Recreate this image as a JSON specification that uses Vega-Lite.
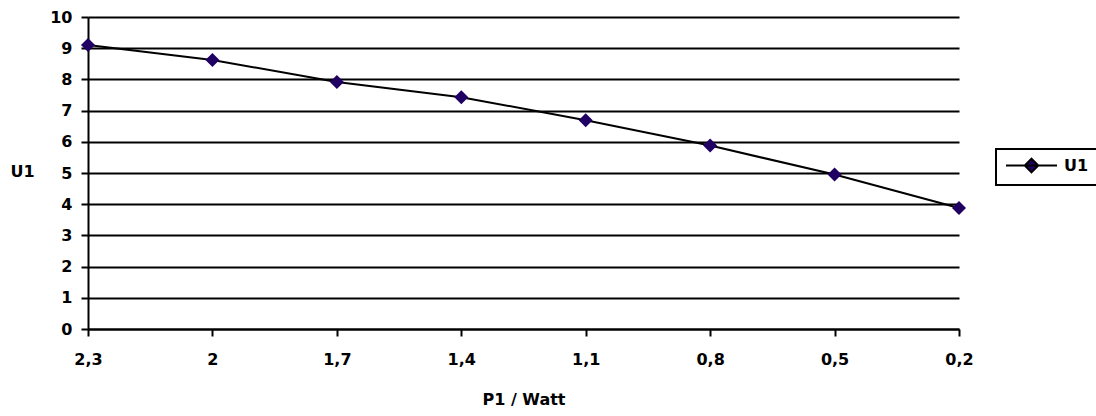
{
  "$schema": "https://vega.github.io/schema/vega-lite/v6.json",
  "width": 871,
  "height": 312,
  "autosize": {"type": "none"},
  "padding": {"left": 88, "top": 17, "right": 137, "bottom": 87},
  "background": "white",
  "data": {
    "values": [
      {"p": "2,3", "u": 9.1, "s": "U1"},
      {"p": "2", "u": 8.62, "s": "U1"},
      {"p": "1,7", "u": 7.92, "s": "U1"},
      {"p": "1,4", "u": 7.43, "s": "U1"},
      {"p": "1,1", "u": 6.69, "s": "U1"},
      {"p": "0,8", "u": 5.88, "s": "U1"},
      {"p": "0,5", "u": 4.95, "s": "U1"},
      {"p": "0,2", "u": 3.88, "s": "U1"}
    ]
  },
  "config": {
    "view": {"stroke": null},
    "font": "DejaVu Sans",
    "legend": {"strokeWidth": 2}
  },
  "encoding": {
    "x": {
      "field": "p",
      "type": "ordinal",
      "sort": null,
      "scale": {"type": "point", "padding": 0},
      "axis": {
        "labelAngle": 0,
        "labelFont": "DejaVu Sans",
        "labelFontSize": 16,
        "labelFontWeight": "bold",
        "labelColor": "black",
        "labelPadding": 15,
        "domainColor": "black",
        "domainWidth": 2,
        "tickColor": "black",
        "tickWidth": 2,
        "tickSize": 7,
        "grid": false,
        "title": "P1 / Watt",
        "titleFont": "DejaVu Sans",
        "titleFontSize": 16,
        "titleFontWeight": "bold",
        "titleColor": "black",
        "titleX": 435.5,
        "titleY": 70,
        "titleAlign": "center",
        "titleBaseline": "middle"
      }
    },
    "y": {
      "field": "u",
      "type": "quantitative",
      "scale": {"domain": [0, 10], "nice": false, "zero": true},
      "axis": {
        "values": [0, 1, 2, 3, 4, 5, 6, 7, 8, 9, 10],
        "labelFont": "DejaVu Sans",
        "labelFontSize": 16,
        "labelFontWeight": "bold",
        "labelColor": "black",
        "labelPadding": 9,
        "domainColor": "black",
        "domainWidth": 2,
        "tickColor": "black",
        "tickWidth": 2,
        "tickSize": 7,
        "grid": true,
        "gridColor": "black",
        "gridWidth": 2,
        "gridOpacity": 1,
        "title": "U1",
        "titleFont": "DejaVu Sans",
        "titleFontSize": 16,
        "titleFontWeight": "bold",
        "titleColor": "black",
        "titleAngle": 0,
        "titleX": -66,
        "titleY": 154,
        "titleAlign": "center",
        "titleBaseline": "middle"
      }
    }
  },
  "layer": [
    {
      "mark": {"type": "line", "color": "black", "strokeWidth": 2}
    },
    {
      "mark": {"type": "point", "shape": "diamond", "filled": true, "size": 196, "opacity": 1},
      "encoding": {
        "color": {
          "field": "s",
          "type": "nominal",
          "scale": {"range": ["#200063"]},
          "legend": {
            "title": null,
            "orient": "none",
            "legendX": 908,
            "legendY": 132,
            "strokeColor": "black",
            "padding": 8,
            "symbolType": "M-3.4,0H3.4M0,-0.9L0.9,0L0,0.9L-0.9,0Z",
            "symbolSize": 225,
            "symbolStrokeColor": "black",
            "symbolStrokeWidth": 2,
            "symbolOpacity": 1,
            "symbolOffset": 19,
            "labelOffset": 24,
            "labelFont": "DejaVu Sans",
            "labelFontSize": 16,
            "labelFontWeight": "bold",
            "labelColor": "black"
          }
        }
      }
    }
  ]
}
